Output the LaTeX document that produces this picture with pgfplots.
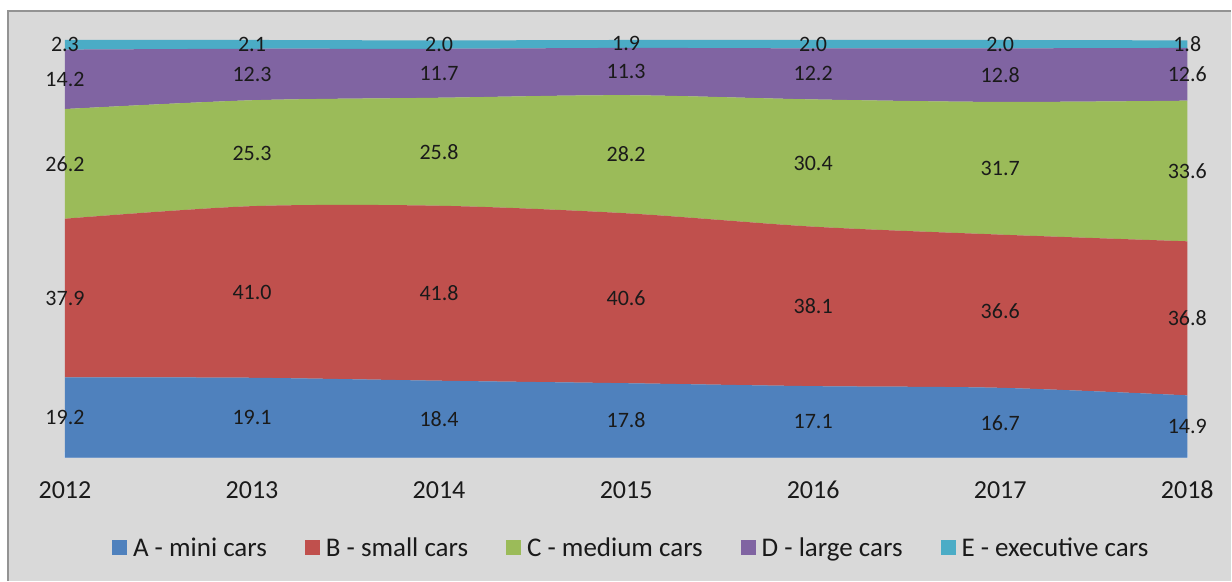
\documentclass[border=0pt]{standalone}
\usepackage{pgfplots}
\pgfplotsset{compat=1.18}
\usepackage{pgfplotstable}
\usepackage{fontspec}
\setmainfont{Carlito}
\definecolor{bgc}{HTML}{D9D9D9}
\definecolor{cA}{HTML}{4F81BD}
\definecolor{cB}{HTML}{C0504D}
\definecolor{cC}{HTML}{9BBB59}
\definecolor{cD}{HTML}{8064A2}
\definecolor{cE}{HTML}{4BACC6}
\definecolor{txt}{HTML}{1A1A1A}
\definecolor{axl}{HTML}{B4C8E4}
\pgfplotstableread{
year A B C D E
2012 19.2 37.9 26.2 14.2 2.3
2013 19.1 41.0 25.3 12.3 2.1
2014 18.4 41.8 25.8 11.7 2.0
2015 17.8 40.6 28.2 11.3 1.9
2016 17.1 38.1 30.4 12.2 2.0
2017 16.7 36.6 31.7 12.8 2.0
2018 14.9 36.8 33.6 12.6 1.8
}\cars
\pgfplotsset{
  lbl/.style={
    nodes near coords={\pgfmathprintnumber[fixed,fixed zerofill,precision=1]{\val}},
    visualization depends on={\thisrow{#1}\as\val},
    every node near coord/.append style={anchor=center, yshift={-2.0942*\val}, font=\fontsize{22}{26}\selectfont, text=txt},
  }
}
\begin{document}
\begin{tikzpicture}[x=1pt,y=1pt]
\fill[white] (0,0) rectangle (1232,581);
\fill[bgc] (8,0) rectangle (1232,570);
\draw[gray!85, line width=1.5pt] (8,0) -- (8,570) -- (1232,570);
\begin{axis}[
  at={(65pt,123pt)}, anchor=south west,
  width=1123pt, height=418pt, scale only axis,
  xmin=2012, xmax=2018, ymin=0, ymax=99.8,
  stack plots=y, clip=false,
  axis x line*=bottom, axis y line=none,
  x axis line style={axl, line width=1.2pt, -},
  xtick={2012,2013,2014,2015,2016,2017,2018},
  xticklabel style={/pgf/number format/1000 sep={}, font=\fontsize{26}{30}\selectfont, text=txt, yshift=-20pt},
  /pgf/number format/assume math mode=true,
  major tick length=6pt, tick align=inside,
  tick style={axl!60!white, line width=1.5pt},
  legend style={at={(0.5045,-0.215)}, anchor=center, draw=none, fill=none,
    font=\fontsize{27}{32}\selectfont, text=txt,
    /tikz/every odd column/.append style={column sep=4pt},
    /tikz/every even column/.append style={column sep=36pt}},
  legend columns=5,
  legend image code/.code={\fill[#1] (0pt,-7.5pt) rectangle (15pt,7.5pt);},
]
\addplot[fill=cA, draw=none, smooth, lbl=A] table[x=year,y=A]{\cars} \closedcycle;
\addplot[fill=cB, draw=none, smooth, lbl=B] table[x=year,y=B]{\cars} \closedcycle;
\addplot[fill=cC, draw=none, smooth, lbl=C] table[x=year,y=C]{\cars} \closedcycle;
\addplot[fill=cD, draw=none, smooth, lbl=D] table[x=year,y=D]{\cars} \closedcycle;
\addplot[fill=cE, draw=none, smooth, lbl=E] table[x=year,y=E]{\cars} \closedcycle;
\legend{A - mini cars, B - small cars, C - medium cars, D - large cars, E - executive cars}
\end{axis}
\end{tikzpicture}
\end{document}
